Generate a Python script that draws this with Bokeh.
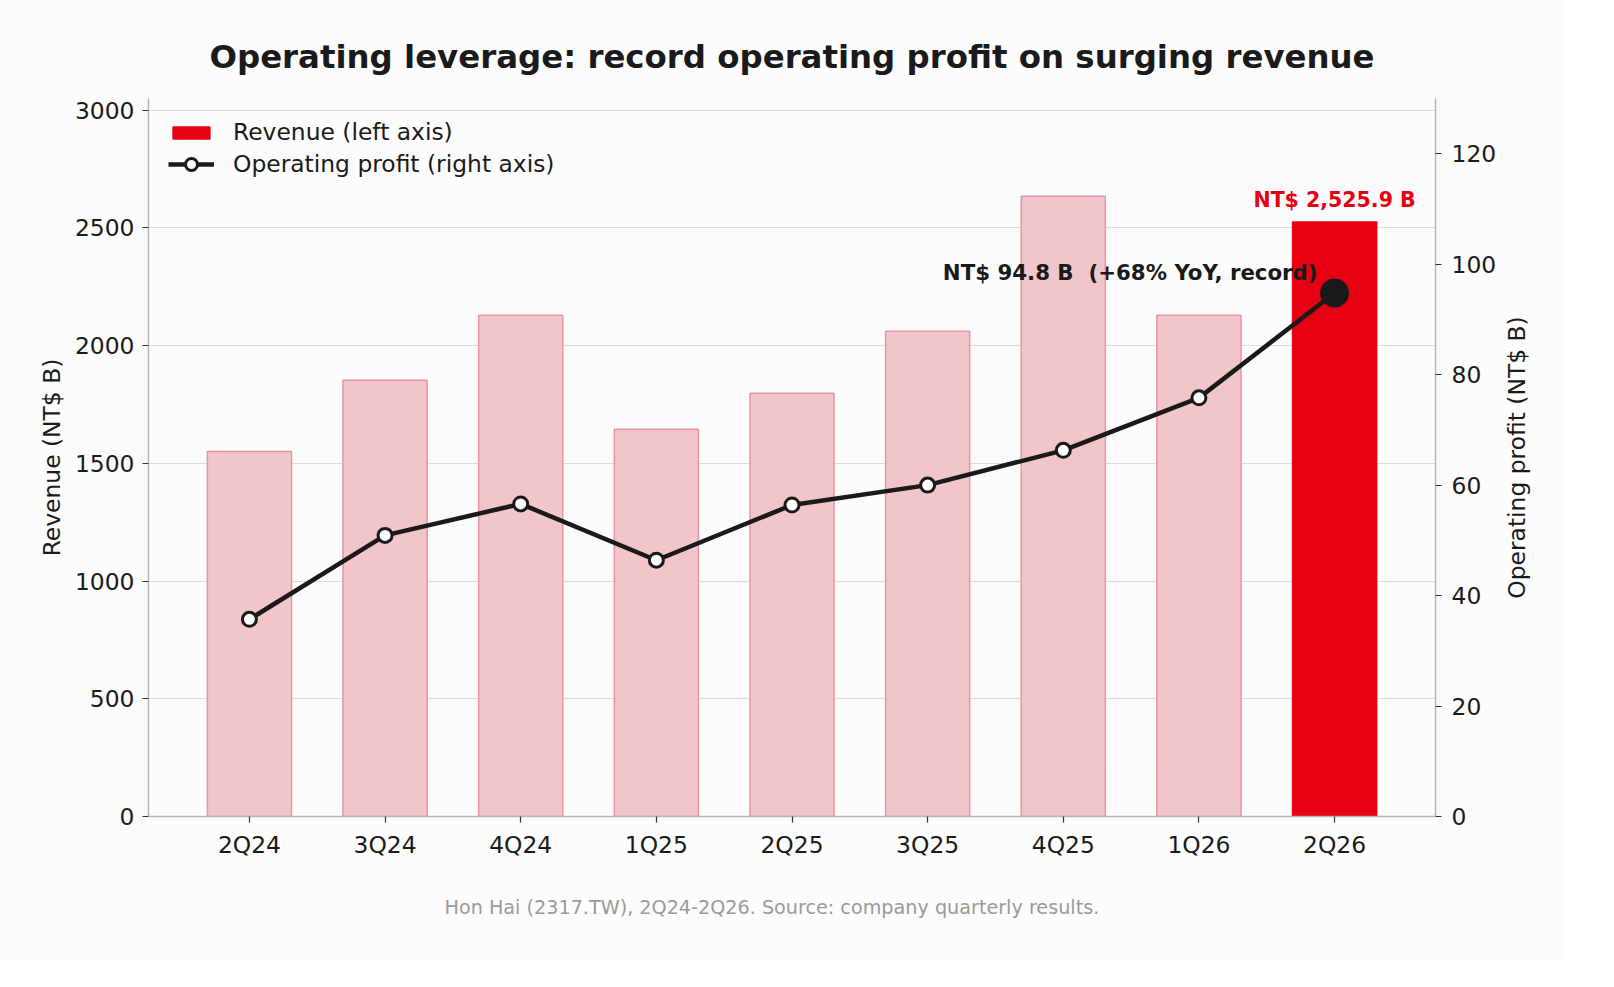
from bokeh.plotting import figure
from bokeh.layouts import row
from bokeh.models import (Range1d, LinearAxis, FixedTicker, Label, Legend,
                          LegendItem, ColumnDataSource, Title)
from bokeh.embed import file_html
from bokeh.resources import INLINE

quarters = ["2Q24", "3Q24", "4Q24", "1Q25", "2Q25", "3Q25", "4Q25", "1Q26", "2Q26"]
revenue = [1551, 1853, 2129, 1645, 1798, 2061, 2635, 2129, 2525.9]
op_profit = [35.7, 50.9, 56.6, 46.4, 56.4, 60.0, 66.3, 75.8, 94.8]
left_ticks = [0, 500, 1000, 1500, 2000, 2500, 3000]
right_ticks = [0, 20, 40, 60, 80, 100, 120]

TITLE = "Operating leverage: record operating profit on surging revenue"
FOOTER = "Hon Hai (2317.TW), 2Q24-2Q26. Source: company quarterly results."
LEFT_LABEL = "Revenue (NT$ B)"
RIGHT_LABEL = "Operating profit (NT$ B)"
FONT = "DejaVu Sans"
RED = "#e60012"
PINK = "#f1c5ca"
PINK_EDGE = "#e8969f"
DARK = "#1a1a1a"
BG = "#fcfcfc"
FS = "23.4px"

n = len(quarters)
xs = list(range(n))
last = n - 1
bar_fill = [PINK] * last + [RED]
bar_edge = [PINK_EDGE] * last + [RED]
mk_fill = ["white"] * last + [DARK]
mk_size = [14] * last + [26]

bars_src = ColumnDataSource(dict(x=xs, top=revenue, fill=bar_fill, edge=bar_edge))
line_src = ColumnDataSource(dict(x=xs, y=op_profit, fill=mk_fill, size=mk_size))

FW, FH = 1287, 718
TOP, BOTTOM = 98, 144
p = figure(frame_width=FW, frame_height=FH,
           min_border_left=148, min_border_right=62,
           min_border_top=TOP, min_border_bottom=BOTTOM,
           x_range=Range1d(-0.744, n - 1 + 0.744),
           y_range=Range1d(0, 3050),
           output_backend="svg", toolbar_location=None,
           background_fill_color=BG, border_fill_color=BG)
p.extra_y_ranges = {"right": Range1d(0, 130)}
p.outline_line_color = None

p.title = Title(text=TITLE, align="center", text_font=FONT, text_font_size="32.4px",
                text_font_style="bold", text_color=DARK, standoff=45)
p.add_layout(Title(text=FOOTER, align="left", offset=296, text_font=FONT,
                   text_font_size="19.2px", text_font_style="normal",
                   text_color="#9a9a9a", standoff=64), "below")

bars = p.vbar(x="x", top="top", width=0.62, source=bars_src,
              fill_color="fill", line_color="edge", line_width=1.5)
ln = p.line(x="x", y="y", source=line_src, y_range_name="right",
            line_width=4.5, line_color=DARK)
sc = p.scatter(x="x", y="y", source=line_src, y_range_name="right",
               size="size", fill_color="fill", line_color=DARK, line_width=3)

# axes
p.xaxis.ticker = FixedTicker(ticks=xs)
p.xaxis.major_label_overrides = {i: q for i, q in enumerate(quarters)}
p.yaxis.ticker = FixedTicker(ticks=left_ticks)
p.yaxis.axis_label = LEFT_LABEL

raxis = LinearAxis(y_range_name="right", ticker=FixedTicker(ticks=right_ticks))
p.add_layout(raxis, "right")

for ax in [p.xaxis[0], p.yaxis[0], raxis]:
    ax.axis_line_color = "#b5b5b5"
    ax.axis_line_width = 1.5
    ax.major_tick_line_color = "#333333"
    ax.major_tick_line_width = 1.2
    ax.major_tick_out = 6
    ax.major_tick_in = 0
    ax.minor_tick_line_color = None
    ax.major_label_text_font = FONT
    ax.major_label_text_font_size = FS
    ax.major_label_text_color = DARK
    ax.axis_label_text_font = FONT
    ax.axis_label_text_font_size = FS
    ax.axis_label_text_font_style = "normal"
    ax.axis_label_text_color = DARK
p.xaxis.major_label_standoff = 8
p.yaxis.major_label_standoff = 8
raxis.major_label_standoff = 10
p.yaxis.axis_label_standoff = 6

p.xgrid.visible = False
p.ygrid.grid_line_color = "#dcdcdc"
p.ygrid.grid_line_width = 1.2

# annotations
p.add_layout(Label(x=xs[last], y=revenue[last], text="NT$ 2,525.9 B",
                   text_align="center", text_baseline="alphabetic", y_offset=22,
                   text_font=FONT, text_font_size="20.5px", text_font_style="bold",
                   text_color=RED))
p.add_layout(Label(x=xs[last], y=op_profit[last], y_range_name="right",
                   text="NT$ 94.8 B\u00a0 (+68% YoY, record)",
                   text_align="right", text_baseline="alphabetic",
                   x_offset=-17, y_offset=20,
                   text_font=FONT, text_font_size="21.3px", text_font_style="bold",
                   text_color=DARK))

legend1 = Legend(items=[LegendItem(label="Revenue (left axis)", renderers=[bars], index=last)],
                 location="top_left", margin=10, padding=10,
                 glyph_width=46, glyph_height=15, label_height=24,
                 label_text_font=FONT, label_text_font_size=FS, label_text_color=DARK,
                 label_standoff=19, border_line_alpha=0, background_fill_alpha=0)
legend2 = Legend(items=[LegendItem(label="Operating profit (right axis)", renderers=[ln, sc], index=0)],
                 location=(10, 627), margin=0, padding=10,
                 glyph_width=46, glyph_height=30, label_height=24,
                 label_text_font=FONT, label_text_font_size=FS, label_text_color=DARK,
                 label_standoff=19, border_line_alpha=0, background_fill_alpha=0)
p.add_layout(legend1)
p.add_layout(legend2)

# narrow companion panel carrying the right-axis title (reads bottom-to-top)
p2 = figure(frame_width=1, frame_height=FH,
            min_border_left=31, min_border_right=34,
            min_border_top=TOP, min_border_bottom=BOTTOM,
            x_range=Range1d(0, 1), y_range=Range1d(0, 130),
            x_axis_location=None,
            output_backend="svg", toolbar_location=None,
            background_fill_color=BG, border_fill_color=BG)
p2.outline_line_color = None
p2.xgrid.visible = False
p2.ygrid.visible = False
ax2 = p2.yaxis[0]
ax2.ticker = FixedTicker(ticks=[])
ax2.axis_line_color = None
ax2.major_tick_out = 0
ax2.major_tick_in = 0
ax2.minor_tick_line_color = None
ax2.major_label_standoff = 0
ax2.axis_label = RIGHT_LABEL
ax2.axis_label_standoff = 0
ax2.axis_label_text_font = FONT
ax2.axis_label_text_font_size = FS
ax2.axis_label_text_font_style = "normal"
ax2.axis_label_text_color = DARK

layout = row(p, p2, spacing=0)
open("out.html", "w").write(file_html(layout, INLINE))
